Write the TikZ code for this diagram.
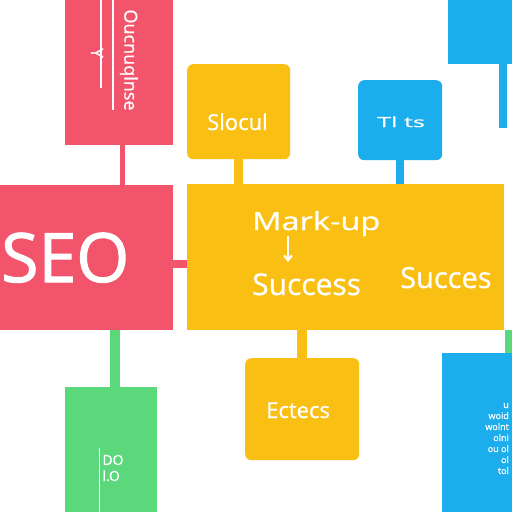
\documentclass[tikz,border=0pt]{standalone}
\usepackage{fontspec}
\setmainfont{Open Sans}[FakeBold=0.8]
\newfontfamily\seofont{Open Sans}[FakeBold=1.6]
\usetikzlibrary{arrows.meta}
\definecolor{seored}{HTML}{F2556B}
\definecolor{seoyellow}{HTML}{F9BF12}
\definecolor{seoblue}{HTML}{1CADEC}
\definecolor{seogreen}{HTML}{5CD87C}
\newcommand{\fs}[1]{\fontsize{#1}{#1}\selectfont}

\begin{document}
\begin{tikzpicture}[x=1pt,y=-1pt,
    box/.style={rectangle,inner sep=0pt,anchor=north west},
    card/.style={box,rounded corners=6pt},
    conn/.style={line width=#1},
    lbl/.style={text=white,inner sep=0pt}]
          \fill[white] (0,0) rectangle (512,512);
          \useasboundingbox (0,0) rectangle (512,512);
          % boxes
          \node[box,fill=seored,minimum width=108pt,minimum height=150pt] (topred) at (65,-5) {};
          \node[box,fill=seored,minimum width=178pt,minimum height=145pt] (seo) at (-5,185) {};
          \node[box,fill=seoyellow,minimum width=317pt,minimum height=146pt] (mark) at (187,184) {};
          \node[card,fill=seoyellow,minimum width=103pt,minimum height=95pt] (slocul) at (187,64) {};
          \node[card,fill=seoblue,minimum width=84pt,minimum height=80pt] (tlts) at (358,80) {};
          \node[box,fill=seoblue,minimum width=70pt,minimum height=69pt] (bluetop) at (448,-5) {};
          \node[box,fill=seogreen,minimum width=92pt,minimum height=130pt] (green) at (65,387) {};
          \node[card,fill=seoyellow,minimum width=114pt,minimum height=102pt] (ectecs) at (245,358) {};
          \node[box,fill=seoblue,minimum width=75pt,minimum height=164pt] (bluebot) at (442,353) {};
          % connectors
          \draw[conn=5pt,seored] ([xshift=3pt]topred.south) -- ([xshift=3pt]topred.south |- seo.north);
          \draw[conn=8pt,seored] ([yshift=-6pt]seo.east) -- ([yshift=-6pt]seo.east -| mark.west);
          \draw[conn=9pt,seoyellow] (slocul.south) -- (slocul.south |- mark.north);
          \draw[conn=8pt,seoblue] (tlts.south) -- (tlts.south |- mark.north);
          \draw[conn=10pt,seoyellow] (ectecs.north) -- (ectecs.north |- mark.south);
          \draw[conn=10pt,seogreen] ([xshift=4pt]green.north) -- ([xshift=4pt]green.north |- seo.south);
          \draw[conn=9pt,seogreen] ([xshift=-8pt]bluebot.north east) -- ([xshift=-8pt]bluebot.north east |- mark.south);
          \coordinate (tail) at (503,128);
          \draw[conn=8pt,seoblue] (bluetop.south -| tail) -- (tail);
          % texts
          \node[lbl,anchor=base west,font=\seofont\fs{68}] (seotext) at (1,282) {SEO};
          \node[lbl,anchor=base west,font=\fs{25}] (markup) at (252,230) {\scalebox{1.3}[1]{Mark-up}};
          \node[lbl,anchor=base west,font=\fs{30}] (success) at (252,295) {Success};
          \node[lbl,anchor=base west,font=\fs{29}] (succes) at (400,288) {Succes};
          \draw[white,line width=2pt,-{Straight Barb[length=5pt,width=8pt]}] (288,236) -- (288,262);
          \node[lbl,anchor=base west,font=\fs{22}] (slocultext) at (207,130) {Slocul};
          \node[lbl,anchor=base west,font=\fs{14}] (tltstext) at (377,127) {\scalebox{1.8}[1]{Tl ts}};
          \node[lbl,anchor=base west,font=\fs{22}] (ectecstext) at (266,418) {Ectecs};
          \node[lbl,rotate=-90,font=\fs{18}] (toptext) at (129,60) {Oucnuqlnse};
          \node[lbl,rotate=-90,font=\fs{17}] (ytext) at (97,53) {Y};
          \draw[white,line width=1.5pt] (101,-5) -- (101,88);
          \draw[white,line width=1.5pt] (113,-5) -- (113,110);
          \node[lbl,align=left,font=\fs{14}] (greentext) at (113,468) {DO\\[2pt]l.O};
          \draw[white,line width=1pt] (99,448) -- (99,512);
          \node[lbl,anchor=north east,align=right,font=\fontsize{9}{11}\selectfont] (bluetext) at (509,403) {u\\woid\\wolnt\\olni\\ou ol\\ol\\tol};
        \end{tikzpicture}
\end{document}
